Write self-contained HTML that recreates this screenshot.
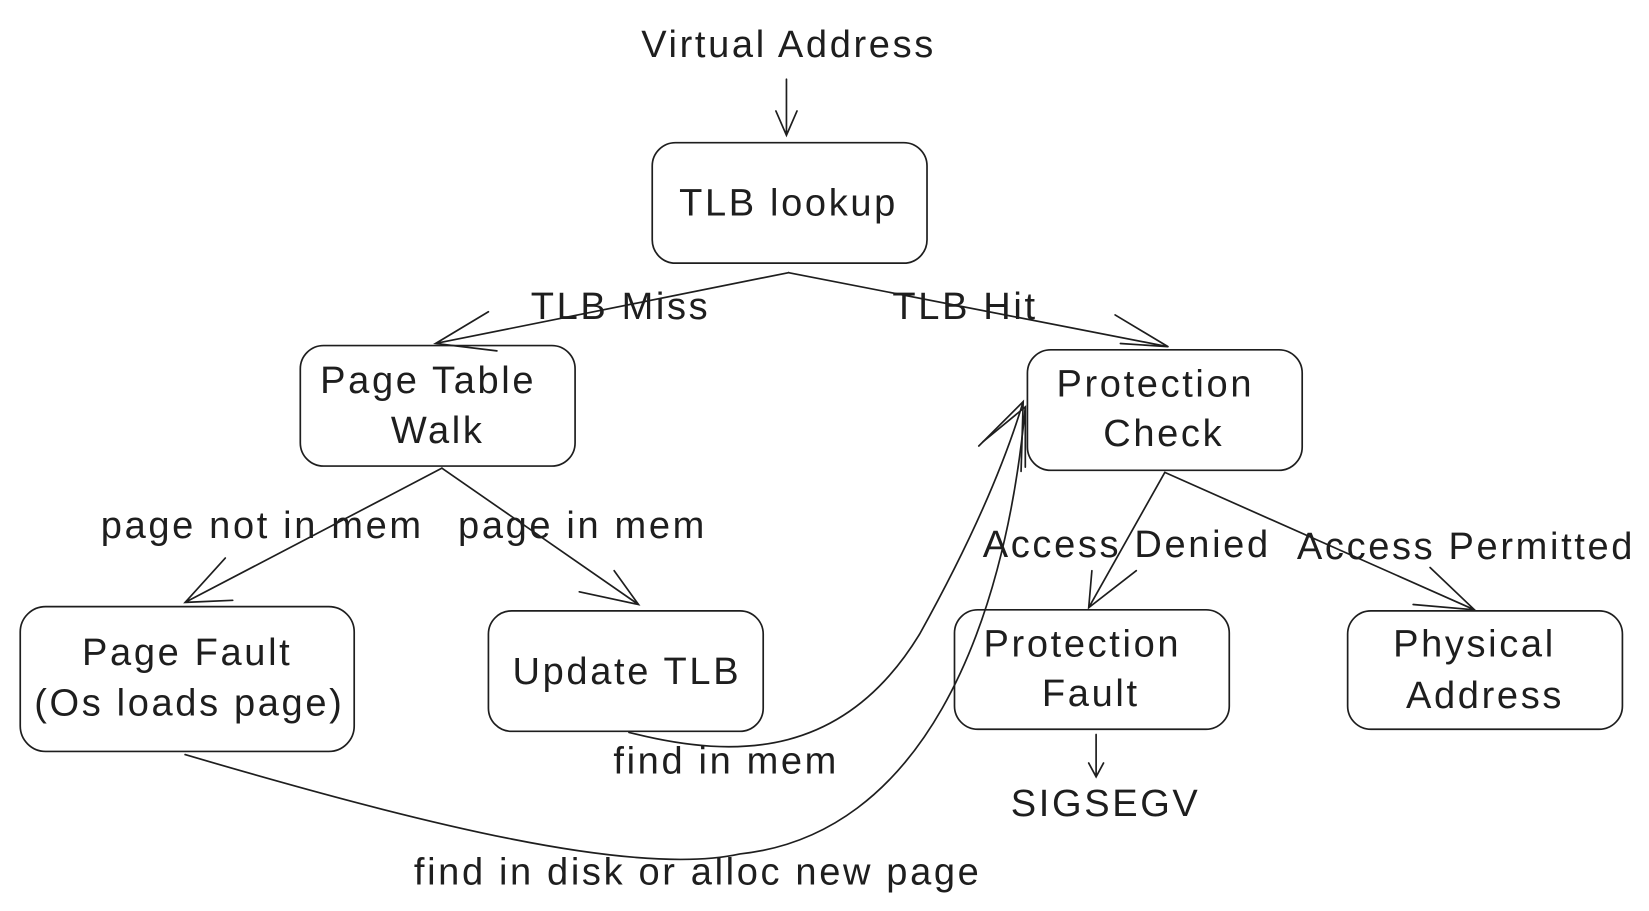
<!DOCTYPE html>
<html><head><style>html,body{margin:0;padding:0;background:#fff}svg{display:block}</style></head>
<body>
<svg width="1649" height="911" viewBox="0 0 1560 862" xmlns="http://www.w3.org/2000/svg">
<g fill="none" stroke="#1e1e1e" stroke-width="1.6" stroke-linecap="round">
<rect x="617" y="135" width="260" height="114" rx="22"/>
<rect x="284" y="327" width="260" height="114" rx="22"/>
<rect x="972" y="331" width="260" height="114" rx="22"/>
<rect x="19" y="574" width="316" height="137" rx="24"/>
<rect x="462" y="578" width="260" height="114" rx="22"/>
<rect x="903" y="577" width="260" height="113" rx="22"/>
<rect x="1275" y="578" width="260" height="112" rx="22"/>
<path d="M744 75 L744 128 M734 105 L744 128 L754 105"/>
<path d="M746 258 L412 325 M462 295 L412 325 L470 332"/>
<path d="M746 258 L1105 328 M1055 298 L1105 328 L1060 325"/>
<path d="M418 443 L175 570 M213 528 L175 570 L220 568"/>
<path d="M418 443 L604 572 M581 540 L604 572 L548 560"/>
<path d="M1102 447 L1030 575 M1033 540 L1030 575 L1075 540"/>
<path d="M1102 447 L1395 577 M1353 537 L1395 577 L1337 572"/>
<path d="M1037 695 L1037 735 M1030 722 L1037 735 L1044 722"/>
<path d="M595 693 C700 720 800 715 870 600 C920 510 950 440 968 380 M926 422 L968 380 L966 446"/>
<path d="M175 714 C400 780 600 830 700 808 C870 790 950 600 970 385 M930 418 L970 385 L970 442"/>
</g>
<g font-family="'Liberation Sans', sans-serif" font-size="36" letter-spacing="2.5" fill="#1e1e1e" text-anchor="middle">
<text x="746" y="54">Virtual Address</text>
<text x="746" y="204">TLB lookup</text>
<text x="405" y="372">Page Table</text>
<text x="414" y="419">Walk</text>
<text x="1093" y="375">Protection</text>
<text x="1101" y="422">Check</text>
<text x="177" y="629">Page Fault</text>
<text x="179" y="677">(Os loads page)</text>
<text x="593" y="647">Update TLB</text>
<text x="1024" y="621">Protection</text>
<text x="1032" y="668">Fault</text>
<text x="1395" y="621">Physical</text>
<text x="1405" y="670">Address</text>
<text x="587" y="302">TLB Miss</text>
<text x="913" y="302">TLB Hit</text>
<text x="248" y="509">page not in mem</text>
<text x="551" y="509">page in mem</text>
<text x="1066" y="527">Access Denied</text>
<text x="1387" y="529">Access Permitted</text>
<text x="1046" y="772">SIGSEGV</text>
<text x="687" y="732">find in mem</text>
<text x="660" y="837">find in disk or alloc new page</text>
</g>
</svg>
</body></html>
